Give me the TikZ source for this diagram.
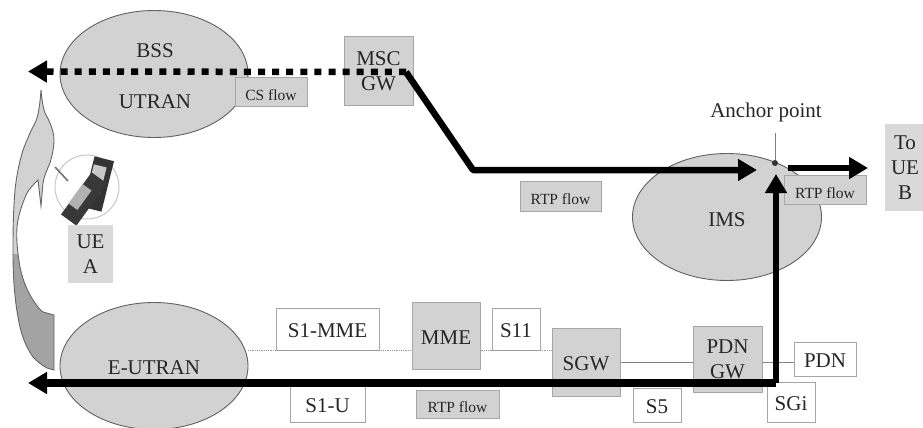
\documentclass[tikz,border=0pt]{standalone}
\usepackage{fontspec}
\setmainfont{Liberation Serif}
\usetikzlibrary{arrows.meta,shapes.geometric}
\definecolor{fillgray}{HTML}{D2D2D2}
\definecolor{edgegray}{HTML}{A6A6A6}
\definecolor{inkgray}{HTML}{262626}
\tikzset{
  every node/.style={text=inkgray,font=\fontsize{21}{25}\selectfont,align=center,inner sep=0pt,execute at begin node={\rule{0pt}{18pt}}},
  netoval/.style={ellipse,draw=black!62,fill=fillgray,line width=0.9pt,minimum width=188pt,minimum height=127pt},
  graybox/.style={rectangle,draw=edgegray,fill=fillgray,line width=1pt},
  flowbox/.style={graybox,font=\fontsize{15.5}{18}\selectfont,execute at begin node={\rule{0pt}{13pt}}},
  plainbox/.style={rectangle,draw=edgegray,fill=white,line width=1pt},
  dimbox/.style={rectangle,fill=fillgray!85!white},
  weak/.style={draw=black!40,line width=0.8pt,densely dotted},
  link/.style={draw=black!50,line width=1pt},
  flow/.style={draw=black,line width=6.5pt,line join=round,-{Triangle[length=19pt,width=21pt]}},
  csflow/.style={flow,dash pattern=on 7pt off 7.1pt},
}
\begin{document}
\begin{tikzpicture}[x=1pt,y=-1pt]
\useasboundingbox (0,0) rectangle (923,428);
% handover arrow
\def\hopath{(41,90) .. controls (42,100) and (43,108) .. (45,113) .. controls (47,117) and (49,120) .. (50,123) .. controls (52,128) and (54,134) .. (54,140)
  .. controls (54,148) and (52,156) .. (50,163) .. controls (47,170) and (44,176) .. (43,183) -- (41,206) -- (38,180)
  .. controls (34,184) and (30,188) .. (27,193) .. controls (22,204) and (18,216) .. (17,227) .. controls (16,240) and (18,256) .. (20,267)
  .. controls (23,282) and (28,292) .. (33,300) .. controls (37,306) and (40,310) .. (43,312) -- (54,315) -- (54,370) -- (47,368)
  .. controls (40,364) and (38,362) .. (33,357) .. controls (28,350) and (23,340) .. (20,327) .. controls (15,305) and (13,280) .. (13,253)
  .. controls (13,235) and (13,215) .. (15,190) .. controls (17,172) and (20,160) .. (23,150) .. controls (27,140) and (31,130) .. (35,123) .. controls (38,118) and (40,105) .. (41,90) -- cycle}
\begin{scope}
\clip \hopath;
\fill[fill=fillgray] (0,80) rectangle (70,254);
\fill[fill=black!36] (0,254) rectangle (70,380);
\end{scope}
\draw[draw=black!60,line width=0.9pt] \hopath;
% phones
\draw[draw=black!22,line width=1pt] (87,187) circle (32);
\draw[draw=black!55,line width=1.6pt] (55,167) -- (68,181);
\node[rectangle,fill=black!80,minimum width=20pt,minimum height=52pt,rotate=-14] (phoneB) at (98,184) {};
\node[rectangle,fill=black!22,minimum width=13pt,minimum height=27pt,rotate=-14] (screenB) at (97,179) {};
\node[rectangle,fill=black!78,minimum width=19pt,minimum height=52pt,rotate=-36] (phoneA) at (84,199) {};
\node[rectangle,fill=black!30,minimum width=11pt,minimum height=24pt,rotate=-36] (keysA) at (80,197) {};
% ovals
\node[netoval] (bss) at (154,74) {};
\node (bsstxt) at (155,49) {BSS};
\node (utrantxt) at (155,100) {UTRAN};
\node[netoval] (eutran) at (154,366) {};
\node (eutrantxt) at (154,366) {E-UTRAN};
\node[netoval,minimum width=189pt] (ims) at (727,217) {};
\node (imstxt) at (727,218) {IMS};
% boxes
\node[graybox,minimum width=69pt,minimum height=68pt] (msc) at (378.5,71) {MSC\\GW};
\node[flowbox,minimum width=72pt,minimum height=29pt] (csflow) at (271,92) {CS flow};
\node[flowbox,minimum width=81pt,minimum height=30pt] (rtpa) at (560.5,196) {RTP flow};
\node[flowbox,minimum width=82pt,minimum height=29pt] (rtpb) at (825,189.5) {RTP flow};
\node[flowbox,minimum width=83pt,minimum height=28pt] (rtpc) at (457.5,404) {RTP flow};
\node[dimbox,minimum width=40pt,minimum height=87pt] (ueb) at (905,167.5) {To\\UE\\B};
\node[dimbox,minimum width=45pt,minimum height=58pt] (uea) at (90.5,254) {UE\\A};
\node[plainbox,minimum width=103pt,minimum height=42pt] (s1mme) at (327.5,329) {S1-MME};
\node[graybox,minimum width=68pt,minimum height=67pt] (mme) at (446,335.5) {MME};
\node[plainbox,minimum width=48pt,minimum height=42pt] (s11) at (516,329) {S11};
\node[graybox,minimum width=68pt,minimum height=68pt] (sgw) at (586,362) {SGW};
\node[graybox,minimum width=69pt,minimum height=66pt] (pdngw) at (727.5,359) {PDN\\GW};
\node[plainbox,minimum width=62pt,minimum height=34pt] (pdn) at (825,359) {PDN};
\node[plainbox,minimum width=75pt,minimum height=37pt] (s1u) at (327.5,403.5) {S1-U};
\node[plainbox,minimum width=48pt,minimum height=34pt] (s5) at (657,405) {S5};
\node[plainbox,minimum width=48pt,minimum height=40pt] (sgi) at (791,402) {SGi};
\node (anchortxt) at (766,111) {Anchor point};
% thin links
\coordinate (eutranE) at (248,350);
\draw[weak] (eutranE) -- (eutranE -| mme.west);
\draw[weak] (mme.east |- 0,350) -- (sgw.west |- 0,350);
\draw[link] (sgw.east |- 0,362) -- (pdngw.west |- 0,362);
\draw[link] (pdngw.east |- 0,362) -- (pdn.west |- 0,362);
% anchor
\coordinate (anchor) at (775,163);
\coordinate (anchortop) at (775,133);
\draw[draw=black!50,line width=1pt] (anchortop) -- (anchor);
\fill[black!80] (anchor) circle (3);
% flows
\coordinate (mscout) at (406,72);
\coordinate (csend) at (28,71.5);
\coordinate (bendA) at (473,170);
\coordinate (inA) at (757,170);
\coordinate (outA) at (788,168);
\coordinate (outB) at (868,168);
\coordinate (inB) at (776,174);
\coordinate (corner) at (776,383);
\coordinate (ueend) at (28,383);
\draw[csflow] (mscout) -- (csend);
\draw[flow] (mscout) -- (bendA) -- (inA);
\draw[flow] (outA) -- (outB);
\draw[flow] (corner) -- (inB);
\draw[flow,line width=7.5pt] (corner) -- (ueend);
\end{tikzpicture}
\end{document}
